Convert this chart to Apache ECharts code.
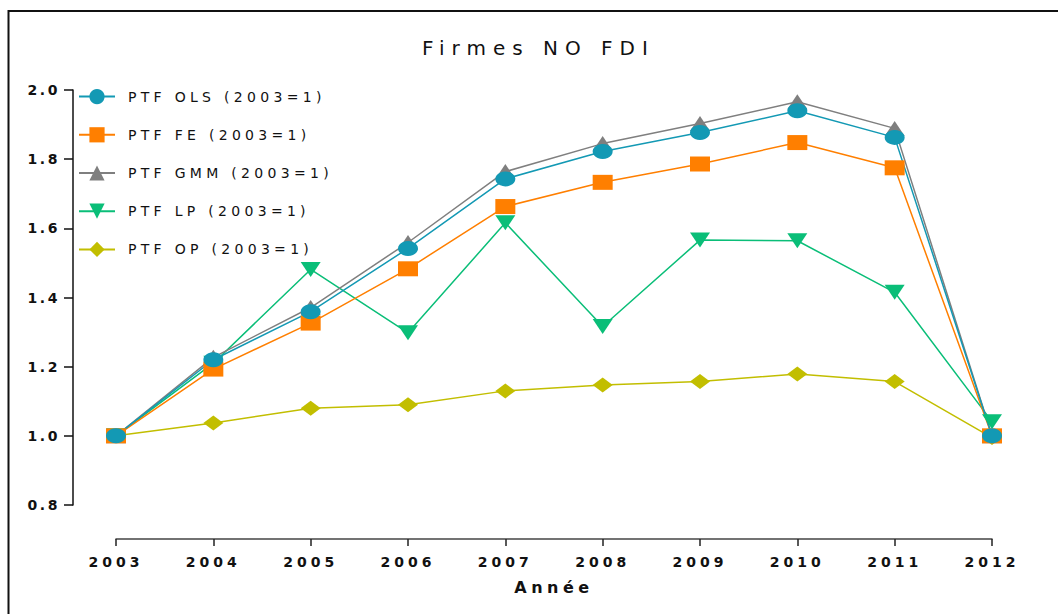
<!DOCTYPE html>
<html>
<head>
<meta charset="utf-8">
<script src="https://cdn.jsdelivr.net/npm/echarts@6/dist/echarts.min.js"></script>
<style>
	html,body{margin:0;padding:0;background:#fff;}
	#main{width:1058px;height:614px;}
</style>
</head>
<body>
<div id="main"></div>
<script>
	var years = ['2003','2004','2005','2006','2007','2008','2009','2010','2011','2012'];

	var ptfOLS = [1.000, 1.220, 1.359, 1.542, 1.743, 1.822, 1.877, 1.940, 1.863, 1.000];
	var ptfFE  = [1.000, 1.193, 1.326, 1.483, 1.663, 1.733, 1.786, 1.848, 1.775, 1.000];
	var ptfGMM = [1.000, 1.227, 1.371, 1.559, 1.764, 1.845, 1.903, 1.966, 1.889, 1.000];
	var ptfLP  = [1.000, 1.210, 1.481, 1.298, 1.616, 1.316, 1.566, 1.564, 1.415, 1.041];
	var ptfOP  = [1.000, 1.037, 1.080, 1.090, 1.130, 1.147, 1.157, 1.179, 1.157, 0.995];

	var yTicks = { min: 0.8, max: 2.0, step: 0.2 };

	var names = ['PTF OLS (2003=1)', 'PTF FE (2003=1)', 'PTF GMM (2003=1)', 'PTF LP (2003=1)', 'PTF OP (2003=1)'];
	var colors = ['#1399b4', '#ff7f00', '#7f7f7f', '#0abe78', '#c2be00'];

	var font = '"DejaVu Sans", sans-serif';

	function line(idx, data, symbol, rotate){
		return {
			name: names[idx],
			type: 'line',
			data: data,
			symbol: symbol,
			symbolSize: [20, 15],
			symbolRotate: rotate || 0,
			color: colors[idx],
			lineStyle: { width: 1.5, color: colors[idx] },
			itemStyle: { color: colors[idx] }
		};
	}

	var chart = echarts.init(document.getElementById('main'), null, { renderer: 'svg' });

	chart.setOption({
		animation: false,
		backgroundColor: '#fff',
		title: {
			text: 'Firmes NO FDI',
			left: 422,
			top: 38,
			padding: 0,
			textStyle: { fontFamily: font, fontSize: 20, fontWeight: 'normal', color: '#111' }
		},
		graphic: [{
			type: 'rect',
			shape: { x: 8.5, y: 11, width: 1200, height: 800 },
			style: { fill: 'none', stroke: '#111', lineWidth: 2 },
			silent: true
		}],
		legend: {
			orient: 'vertical',
			left: 73,
			top: 84,
			itemWidth: 36,
			itemHeight: 19,
			itemGap: 23,
			data: names,
			textStyle: { fontFamily: font, fontSize: 14, color: '#111', padding: [0, 0, 0, 8] }
		},
		grid: { left: 116, right: 66, top: 90, bottom: 109 },
		xAxis: {
			type: 'category',
			data: years,
			boundaryGap: false,
			offset: 34,
			name: 'Année',
			nameLocation: 'middle',
			nameGap: 40,
			nameTextStyle: { fontFamily: font, fontSize: 16, fontWeight: 'bold', color: '#111' },
			axisLine: { lineStyle: { color: '#444', width: 1.5 } },
			axisTick: { length: 7, lineStyle: { color: '#222', width: 1.5 } },
			axisLabel: { margin: 16, fontFamily: font, fontSize: 14, fontWeight: 'bold', color: '#111' },
			splitLine: { show: false }
		},
		yAxis: {
			type: 'value',
			min: yTicks.min,
			max: yTicks.max,
			interval: yTicks.step,
			offset: 43,
			axisLine: { show: true, lineStyle: { color: '#111', width: 1.5 } },
			axisTick: { show: true, length: 9, lineStyle: { color: '#111', width: 1.5 } },
			axisLabel: {
				margin: 13, fontFamily: font, fontSize: 14, fontWeight: 'bold', color: '#111',
				formatter: function(v){ return v.toFixed(1); }
			},
			splitLine: { show: false }
		},
		series: [
			line(4, ptfOP, 'diamond'),
			line(3, ptfLP, 'triangle', 180),
			line(2, ptfGMM, 'triangle'),
			line(1, ptfFE, 'rect'),
			line(0, ptfOLS, 'circle')
		]
	});

	// the source plot has widely spaced letters
	function spacing(){
		var texts = chart.getDom().querySelectorAll('text');
		for (var i = 0; i < texts.length; i++) {
			var t = texts[i].textContent;
			var s = 4.3;
			if (t === 'Firmes NO FDI') s = 7;
			else if (/^\d{4}$/.test(t)) s = 4;
			else if (t === 'Année') s = 4.5;
			else if (/^\d\.\d$/.test(t)) s = 2.6;
			texts[i].setAttribute('letter-spacing', s + 'px');
		}
	}
	chart.on('finished', spacing);
	setTimeout(spacing, 50);
</script>
</body>
</html>
